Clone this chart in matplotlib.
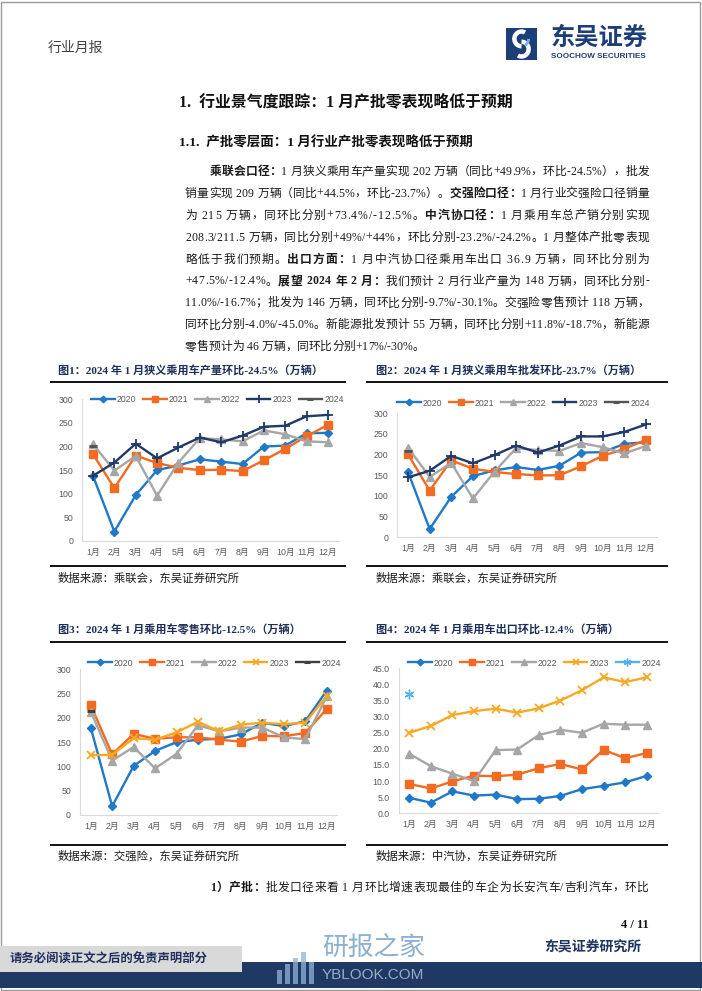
import numpy as np
import matplotlib
matplotlib.use("Agg")
import matplotlib.pyplot as plt
from matplotlib.font_manager import FontProperties
from matplotlib.patches import Rectangle, Arc
from matplotlib.lines import Line2D
from matplotlib.ticker import FormatStrFormatter

W, H = 702, 991

months = ["1月", "2月", "3月", "4月", "5月", "6月", "7月", "8月", "9月", "10月", "11月", "12月"]
years = ["2020", "2021", "2022", "2023", "2024"]

# 图1 狭义乘用车产量（万辆）
prod_2020 = [138, 20, 97, 150, 160, 173, 168, 163, 200, 202, 228, 229]
prod_2021 = [184, 112, 181, 165, 155, 150, 151, 148, 171, 195, 222, 246]
prod_2022 = [205, 149, 180, 96, 166, 218, 215, 211, 234, 226, 211, 209]
prod_2023 = [138, 166, 206, 175, 198, 219, 209, 223, 242, 244, 264, 267]
prod_2024 = [202]

# 图2 狭义乘用车批发
whsl_2020 = [158, 20, 98, 148, 162, 170, 163, 173, 205, 206, 226, 230]
whsl_2021 = [201, 113, 186, 166, 158, 153, 150, 150, 172, 197, 214, 236]
whsl_2022 = [217, 146, 180, 94, 159, 216, 211, 209, 228, 218, 203, 221]
whsl_2023 = [145, 161, 197, 179, 199, 222, 205, 222, 244, 244, 255, 273]
whsl_2024 = [209]

# 图3 乘用车零售（交强险）
retail_2020 = [180, 18, 101, 132, 150, 155, 157, 166, 190, 183, 193, 256]
retail_2021 = [226, 125, 167, 157, 160, 160, 155, 151, 163, 162, 169, 218]
retail_2022 = [213, 112, 140, 96, 126, 185, 172, 180, 180, 160, 156, 244]
retail_2023 = [123, 124, 158, 155, 170, 192, 172, 186, 190, 187, 190, 245]
retail_2024 = [215]

# 图4 乘用车出口
export_2020 = [4.8, 3.3, 6.8, 5.5, 5.8, 4.4, 4.5, 5.4, 7.5, 8.5, 9.6, 11.6]
export_2021 = [9.1, 7.7, 9.9, 11.7, 11.5, 12.0, 14.0, 15.3, 13.6, 19.7, 17.1, 18.7]
export_2022 = [18.5, 14.6, 12.3, 10.0, 19.6, 19.8, 24.3, 25.9, 25.0, 27.8, 27.5, 27.5]
export_2023 = [25.0, 27.1, 30.5, 31.7, 32.5, 31.2, 32.6, 35.0, 38.2, 42.2, 40.7, 42.2]
export_2024 = [36.9]

BLUE, ORANGE, GRAY = "#1f78c8", "#f36a21", "#a6a6a6"
NAVY, GOLD, DKGRAY, LTBLUE = "#1f3a68", "#f9a825", "#555555", "#4fb3e8"
TITLE_C = "#1d2f55"

SERIF_CJK = ["Liberation Serif", "Noto Sans CJK SC"]
SANS_CJK = ["Liberation Sans", "Noto Sans CJK SC"]
CJK = ["Noto Sans CJK SC"]

fig = plt.figure(figsize=(W / 100, H / 100), dpi=100)
renderer = fig.canvas.get_renderer()


def fy(y):
    return 1 - y / H


def hline(x0, x1, y, lw=1.4, color="#111111"):
    fig.add_artist(Line2D([x0 / W, x1 / W], [fy(y), fy(y)], transform=fig.transFigure,
                          lw=lw, color=color))


def rect(x0, y0, x1, y1, color, **kw):
    fig.add_artist(Rectangle((x0 / W, fy(y1)), (x1 - x0) / W, (y1 - y0) / H,
                             transform=fig.transFigure, facecolor=color,
                             edgecolor="none", **kw))


def text(x, y, s, **kw):
    kw.setdefault("va", "center")
    return fig.text(x / W, fy(y), s, **kw)


body_reg = FontProperties(family=SERIF_CJK, size=8.5)
body_bold = FontProperties(family=SERIF_CJK, size=8.5, weight="bold")


def advance(c, prop):
    w1 = renderer.get_text_width_height_descent("|" + c + "|", prop, ismath=False)[0]
    w0 = renderer.get_text_width_height_descent("||", prop, ismath=False)[0]
    return w1 - w0


def body_line(x0, x1, y, runs, justify=True):
    chars = []
    for s, bold in runs:
        prop = body_bold if bold else body_reg
        for c in s:
            chars.append((c, prop, advance(c, prop)))
    total = sum(w for _, _, w in chars)
    gap = (x1 - x0 - total) / (len(chars) - 1) if justify else 0.0
    x = x0
    for c, prop, w in chars:
        if c != " ":
            text(x, y, c, fontproperties=prop, ha="left", color="#1a1a1a")
        x += w + gap


def draw_chart(box, data, styles, ymax, ystep, fmt, legend_xy):
    left, right, top, bottom = box
    ax = fig.add_axes([left / W, fy(bottom), (right - left) / W, (bottom - top) / H])
    for yr, vals, (color, marker, ms, mew) in zip(years, data, styles):
        ax.plot(range(len(vals)), vals, color=color, lw=1.7, marker=marker, ms=ms,
                mew=mew, label=yr, clip_on=False)
    ax.set_xlim(-0.5, 11.5)
    ax.set_ylim(0, ymax)
    ax.set_yticks(np.arange(0, ymax + ystep / 2, ystep))
    ax.yaxis.set_major_formatter(FormatStrFormatter(fmt))
    ax.set_xticks(range(12))
    ax.set_xticklabels(months, fontfamily=SANS_CJK)
    for lab in ax.get_yticklabels():
        lab.set_fontfamily("Liberation Sans")
    ax.tick_params(length=0, labelsize=6.3, labelcolor="#595959")
    ax.tick_params(axis="y", pad=6.5)
    ax.tick_params(axis="x", pad=5)
    for s in ["top", "right"]:
        ax.spines[s].set_visible(False)
    for s in ["left", "bottom"]:
        ax.spines[s].set_color("#d9d9d9")
        ax.spines[s].set_linewidth(0.8)
    ax.set_facecolor("none")
    ax.legend(loc="center left", bbox_to_anchor=(legend_xy[0] / W, fy(legend_xy[1])),
              bbox_transform=fig.transFigure, ncol=5, frameon=False, borderpad=0,
              borderaxespad=0, handlelength=2.7, handletextpad=0.25, columnspacing=0.75,
              numpoints=1, markerscale=0.8,
              prop=FontProperties(family="Liberation Sans", size=6.3),
              labelcolor="#595959")
    return ax


# page frame
fig.add_artist(Rectangle((1 / W, 1 / H), 699 / W, 988 / H, transform=fig.transFigure,
                         facecolor="none", edgecolor="#9a9a9a", lw=1.0))

# header
text(48, 48, "行业月报", fontfamily=CJK, fontsize=10, color="#404040")
logo = fig.add_axes([506 / W, fy(60), 31 / W, 32 / H])
logo.set_xlim(0, 1)
logo.set_ylim(0, 1)
logo.axis("off")
logo.add_patch(Rectangle((0, 0), 1, 1, facecolor="#1e3e78", edgecolor="none"))
logo.add_patch(Arc((0.5, 0.66), 0.46, 0.46, theta1=60, theta2=270, lw=3.2, color="white"))
logo.add_patch(Arc((0.5, 0.34), 0.46, 0.46, theta1=240, theta2=450, lw=3.2, color="white"))
logo.add_patch(Arc((0.5, 0.66), 0.46, 0.46, theta1=300, theta2=360, lw=2.0, color="#6fb6e8"))
text(551, 38, "东吴证券", fontfamily=CJK, fontsize=17.5, fontweight="bold", color="#1e3e78")
text(551, 56, "SOOCHOW SECURITIES", fontfamily="Liberation Sans", fontsize=5.9,
     fontweight="bold", color="#1e3e78")

# headings
text(179, 103, "1.  行业景气度跟踪：1 月产批零表现略低于预期", fontfamily=SERIF_CJK,
     fontsize=11.4, fontweight="bold", color="#111111")
text(179, 143, "1.1.  产批零层面：1 月行业产批零表现略低于预期", fontfamily=SERIF_CJK,
     fontsize=9.7, fontweight="bold", color="#111111")

# body paragraph
L0, L1, R = 210, 185, 649
body = [
    (L0, [("乘联会口径：", True), ("1 月狭义乘用车产量实现 202 万辆（同比+49.9%，环比-24.5%），批发", False)]),
    (L1, [("销量实现 209 万辆（同比+44.5%，环比-23.7%）。", False), ("交强险口径：", True),
          ("1 月行业交强险口径销量", False)]),
    (L1, [("为 215 万辆，同环比分别+73.4%/-12.5%。", False), ("中汽协口径：", True),
          ("1 月乘用车总产销分别实现", False)]),
    (L1, [("208.3/211.5 万辆，同比分别+49%/+44%，环比分别-23.2%/-24.2%。1 月整体产批零表现", False)]),
    (L1, [("略低于我们预期。", False), ("出口方面：", True),
          ("1 月中汽协口径乘用车出口 36.9 万辆，同环比分别为", False)]),
    (L1, [("+47.5%/-12.4%。", False), ("展望 2024 年 2 月：", True),
          ("我们预计 2 月行业产量为 148 万辆，同环比分别-", False)]),
    (L1, [("11.0%/-16.7%；批发为 146 万辆，同环比分别-9.7%/-30.1%。交强险零售预计 118 万辆，", False)]),
    (L1, [("同环比分别-4.0%/-45.0%。新能源批发预计 55 万辆，同环比分别+11.8%/-18.7%，新能源", False)]),
    (L1, [("零售预计为 46 万辆，同环比分别+17%/-30%。", False)]),
]
for i, (x0, runs) in enumerate(body):
    body_line(x0, R, 172 + i * 21.9, runs, justify=i < len(body) - 1)

# chart frames, titles, sources
titles = [
    (58, 371, "图1：2024 年 1 月狭义乘用车产量环比-24.5%（万辆）"),
    (376, 371, "图2：2024 年 1 月狭义乘用车批发环比-23.7%（万辆）"),
    (58, 630, "图3：2024 年 1 月乘用车零售环比-12.5%（万辆）"),
    (376, 630, "图4：2024 年 1 月乘用车出口环比-12.4%（万辆）"),
]
for x, y, s in titles:
    text(x, y, s, fontfamily=SERIF_CJK, fontsize=8, fontweight="bold", color=TITLE_C)
for y in [382, 566, 642, 845]:
    hline(51, 345, y)
    hline(367, 667, y)
sources = [
    (58, 578, "数据来源：乘联会，东吴证券研究所"),
    (376, 578, "数据来源：乘联会，东吴证券研究所"),
    (58, 856, "数据来源：交强险，东吴证券研究所"),
    (376, 856, "数据来源：中汽协，东吴证券研究所"),
]
for x, y, s in sources:
    text(x, y, s, fontfamily=CJK, fontsize=8.2, color="#1a1a1a")

dash24 = ("_", 6, 2.2)
st_12 = [(BLUE, "D", 4.2, 1.0), (ORANGE, "s", 6.0, 1.0), (GRAY, "^", 5.5, 1.0),
         (NAVY, "+", 6.5, 1.3), (DKGRAY,) + dash24]
st_3 = [(BLUE, "D", 4.2, 1.0), (ORANGE, "s", 6.0, 1.0), (GRAY, "^", 5.5, 1.0),
        (GOLD, "x", 5.5, 1.3), ("#404040",) + dash24]
st_4 = [(BLUE, "D", 4.2, 1.0), (ORANGE, "s", 6.0, 1.0), (GRAY, "^", 5.5, 1.0),
        (GOLD, "x", 5.5, 1.3), (LTBLUE, (6, 2, 0), 7, 1.0)]

draw_chart((82.3, 338.7, 399.3, 541), [prod_2020, prod_2021, prod_2022, prod_2023, prod_2024],
           st_12, 300, 50, "%d", (91, 400))
draw_chart((397.2, 656.8, 413.3, 537.3), [whsl_2020, whsl_2021, whsl_2022, whsl_2023, whsl_2024],
           st_12, 300, 50, "%d", (397, 403))
draw_chart((80, 337.4, 669.3, 815), [retail_2020, retail_2021, retail_2022, retail_2023, retail_2024],
           st_3, 300, 50, "%d", (88, 663))
draw_chart((398.5, 657.5, 668.3, 813.3), [export_2020, export_2021, export_2022, export_2023, export_2024],
           st_4, 45, 5, "%.1f", (408, 663))

# text below charts
body_line(210, R, 888, [("1）产批：", True),
                        ("批发口径来看 1 月环比增速表现最佳的车企为长安汽车/吉利汽车，环比", False)])
text(649, 925, "4 / 11", fontfamily="Liberation Serif", fontsize=9, fontweight="bold",
     ha="right", color="#111111")
text(544, 948, "东吴证券研究所", fontfamily=CJK, fontsize=10, fontweight="bold", color="#1e3560")

# footer
rect(0, 962, W, 988, "#1f3864")
rect(0, 946, 242, 972, "#d9d9d9")
text(10, 959, "请务必阅读正文之后的免责声明部分", fontfamily=CJK, fontsize=8.9,
     fontweight="bold", color="#1f3060")
for i, (bx, bh) in enumerate([(277, 14), (285, 20), (293, 26), (301, 32), (309, 22)]):
    rect(bx, 984 - bh, bx + 5, 984, "#8fb5d6", alpha=0.75)
text(322, 948, "研报之家", fontfamily=CJK, fontsize=18.5, color="#6f9cc4", alpha=0.8)
text(322, 975, "YBLOOK.COM", fontfamily="Liberation Sans", fontsize=11, color="#b8cadb",
     alpha=0.8)

fig.savefig("out.png", dpi=100)
